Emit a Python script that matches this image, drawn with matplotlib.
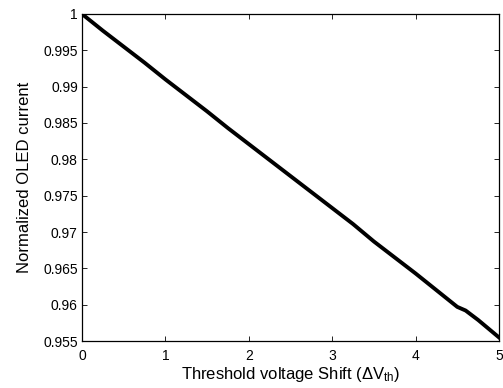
import numpy as np
import matplotlib
matplotlib.use('Agg')
import matplotlib.pyplot as plt
from matplotlib.ticker import FuncFormatter

plt.rcParams['font.family'] = ['Liberation Sans', 'DejaVu Sans']
plt.rcParams['mathtext.fontset'] = 'custom'
plt.rcParams['mathtext.rm'] = 'Liberation Sans'
plt.rcParams['mathtext.it'] = 'Liberation Sans'

# threshold voltage shift vs normalized OLED current
shift = [0, 0.25, 0.5, 0.75, 1.0, 1.25, 1.5, 1.75, 2.0, 2.25, 2.5,
         2.75, 3.0, 3.25, 3.5, 3.75, 4.0, 4.25, 4.5, 4.6, 4.75, 5.0]
current = [1.0, 0.9977, 0.9955, 0.9933, 0.9910, 0.9888, 0.9866, 0.9843,
           0.9821, 0.9799, 0.9777, 0.9755, 0.9733, 0.9711, 0.9687, 0.9665,
           0.9643, 0.9620, 0.9597, 0.9592, 0.9579, 0.9555]

xticks = [0, 1, 2, 3, 4, 5]
yticks = [0.955, 0.96, 0.965, 0.97, 0.975, 0.98, 0.985, 0.99, 0.995, 1]

fig = plt.figure(figsize=(5.03, 3.88), dpi=100)
ax = fig.add_axes([0.163, 0.121, 0.829, 0.843])
ax.plot(shift, current, 'k-', lw=2.8)

ax.set_xlim(0, 5)
ax.set_ylim(0.955, 1)
ax.set_xticks(xticks)
ax.set_yticks(yticks)
ax.yaxis.set_major_formatter(FuncFormatter(lambda v, p: f'{v:g}'))
ax.tick_params(direction='in', top=True, right=True, labelsize=10,
               length=3.5, width=0.6, pad=3)
ax.tick_params(axis='x', pad=6)
for s in ax.spines.values():
    s.set_linewidth(0.9)

ax.set_xlabel('Threshold voltage Shift ($\\Delta$V$_{\\mathrm{th}}$)', fontsize=12, labelpad=1)
ax.set_ylabel('Normalized OLED current', fontsize=12, labelpad=8)

fig.savefig('out.png', dpi=100)
